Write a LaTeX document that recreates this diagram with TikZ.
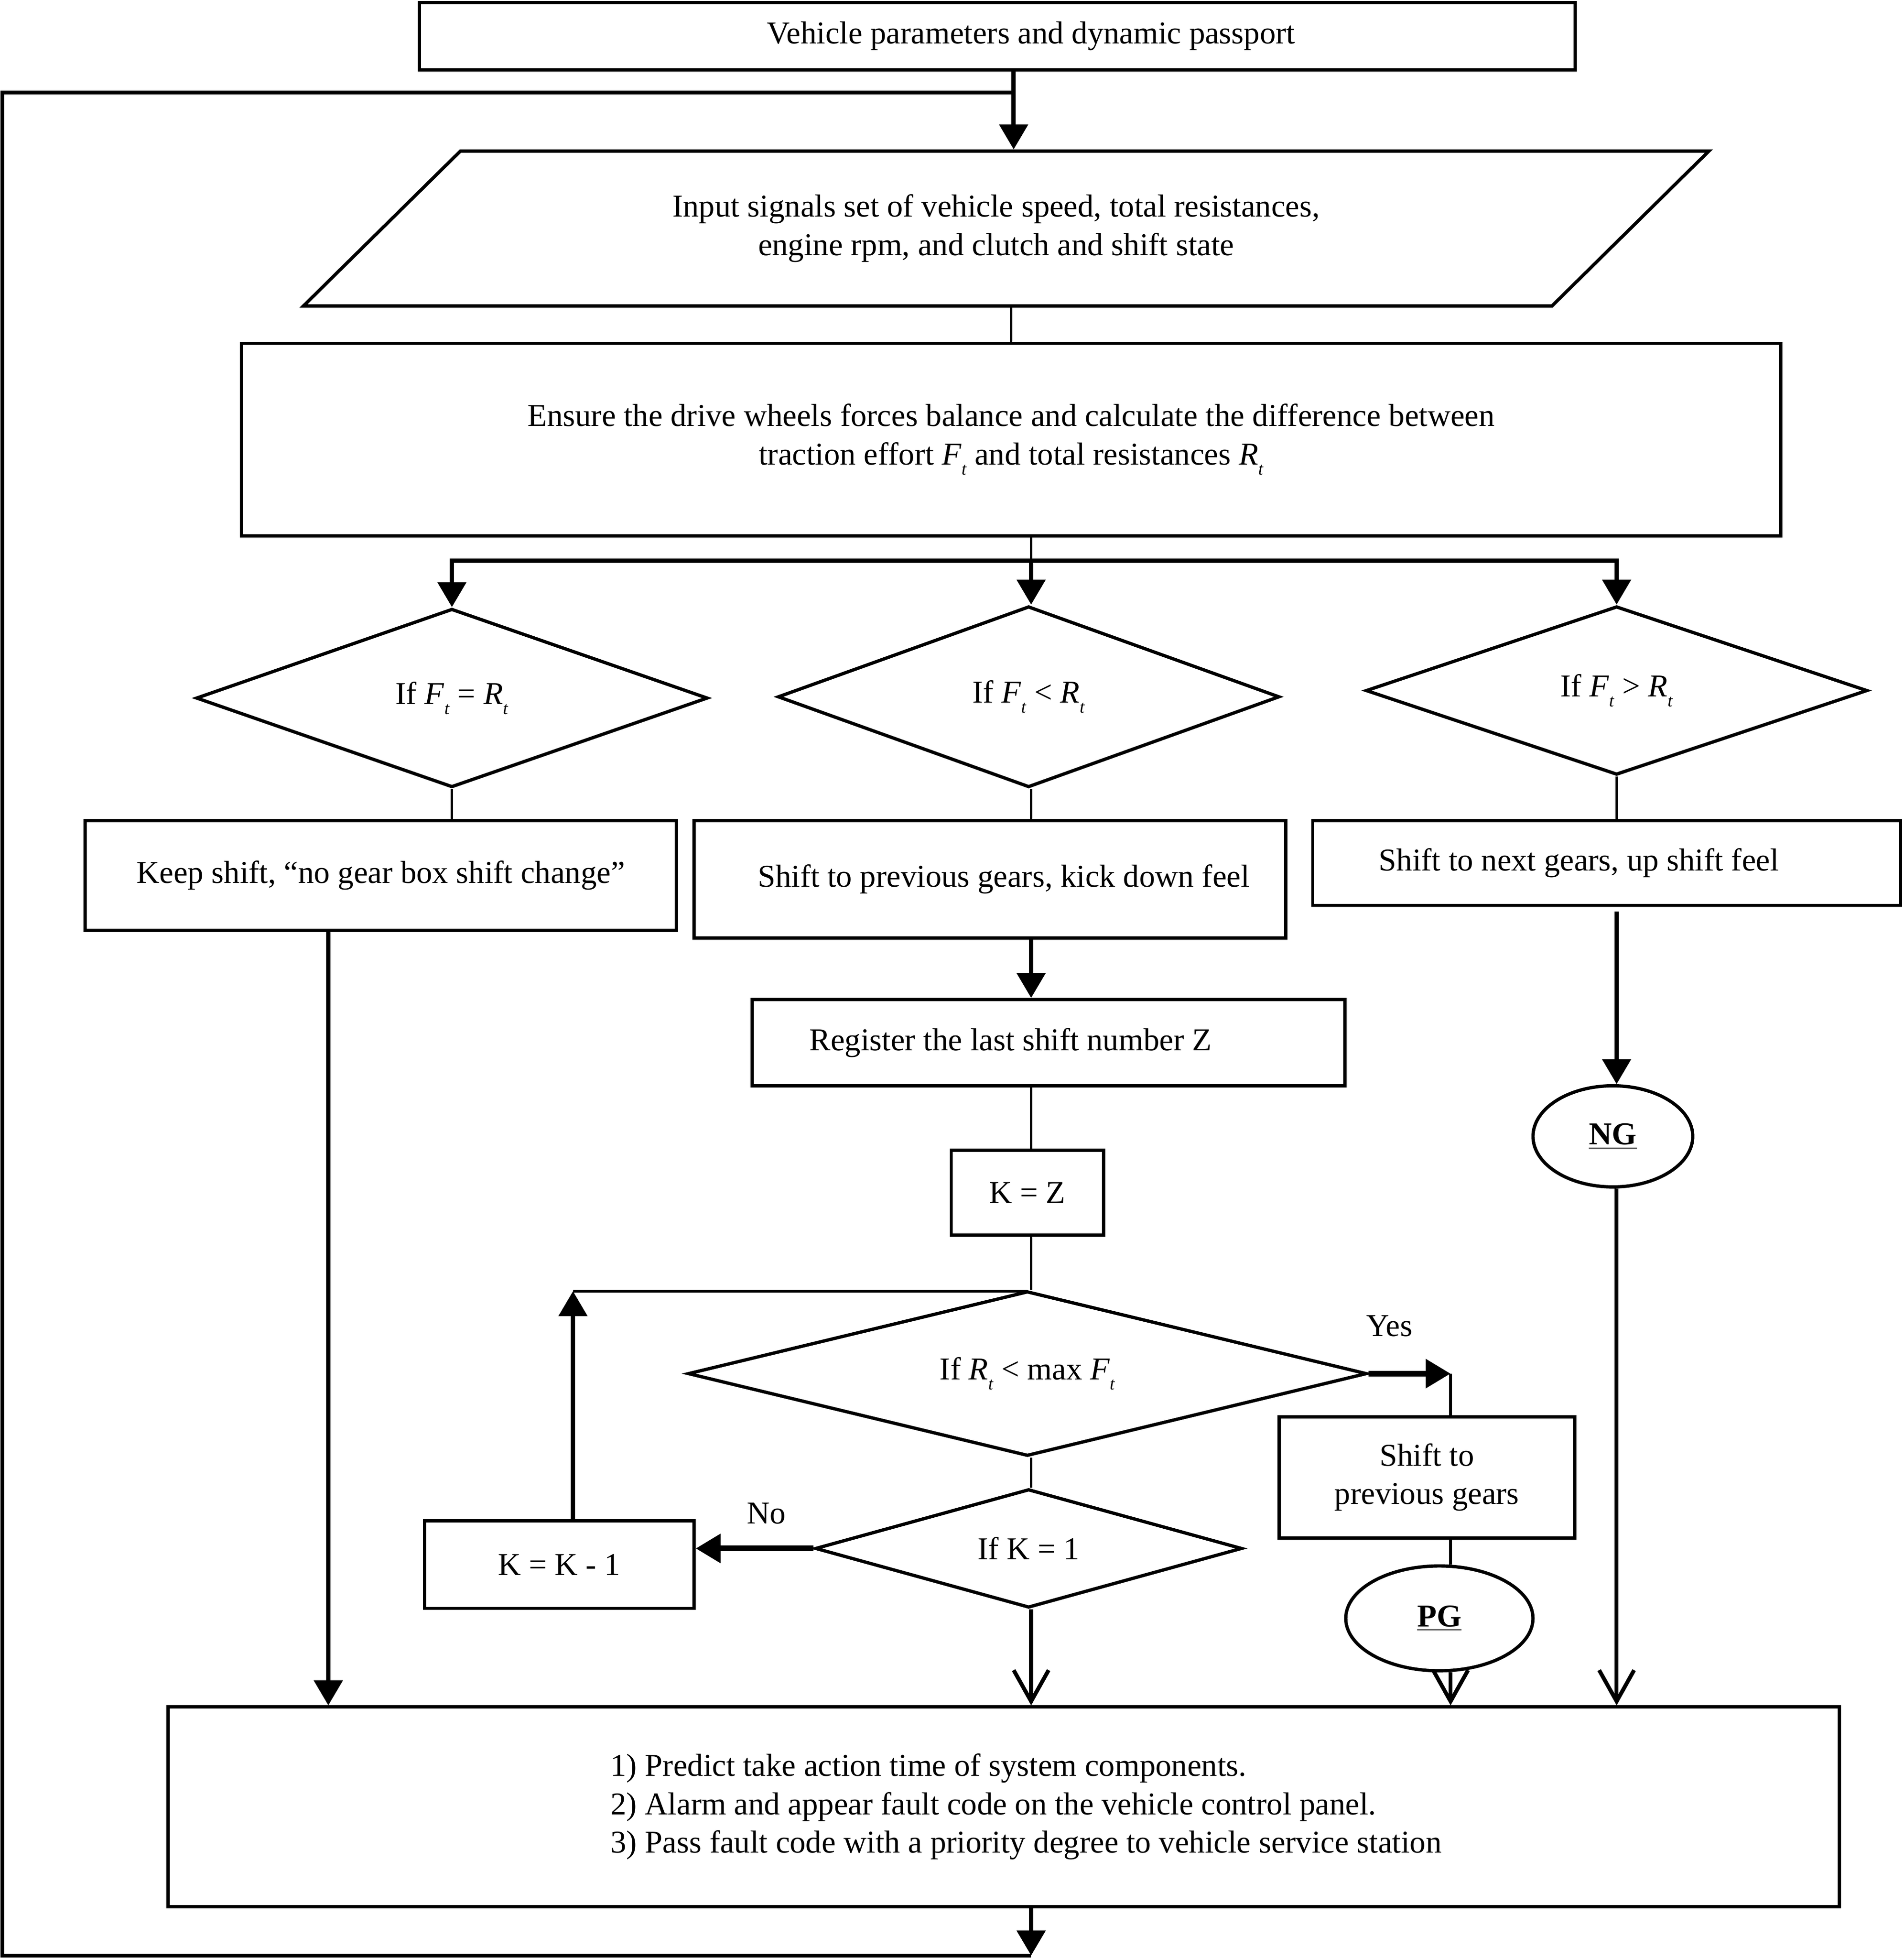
\documentclass[tikz,border=0pt]{standalone}
\usepackage{fontspec}
\setmainfont{Liberation Serif}
\usetikzlibrary{arrows.meta, shapes.geometric}
\newcommand{\Ft}{\textit{F}\raisebox{-0.7ex}{\footnotesize\textit{t}}}
\newcommand{\Rt}{\textit{R}\raisebox{-0.7ex}{\footnotesize\textit{t}}}

\begin{document}
\begin{tikzpicture}[x=0.02cm, y=-0.02cm, font=\fontsize{14.5}{17.5}\selectfont]
    \tikzstyle{block}=[rectangle, draw=black, line width=1.5pt, inner sep=2pt, align=center]
    \tikzstyle{decision}=[diamond, draw=black, line width=1.5pt, inner sep=0pt, align=center]
    \tikzstyle{io}=[trapezium, trapezium stretches=true, trapezium left angle=43, trapezium right angle=137, draw=black, line width=1.5pt, align=center]
    \tikzstyle{terminal}=[ellipse, draw=black, line width=1.5pt, inner sep=0pt]
    \tikzstyle{conn}=[draw=black, line width=1.2pt]
    \tikzstyle{arrow}=[conn, line width=2pt, -{Triangle[length=0.4cm, width=0.45cm]}]
    \tikzstyle{openarrow}=[conn, line width=1.8pt, -{Straight Barb[length=0.5cm, width=0.56cm, line width=1.8pt]}]

    \useasboundingbox[fill=white] (0,0) rectangle (1525,1568);

    % main column
    \node[block, minimum width=18.52cm, minimum height=1.08cm] (top) at (799,29) {\hspace*{1.08cm}Vehicle parameters and dynamic passport};
    \node[io, minimum width=22.62cm, minimum height=2.48cm] (inp) at (806,183) {\begin{tabular}{@{}c@{}}Input signals set of vehicle speed, total resistances,\\ engine rpm, and clutch and shift state\end{tabular}\hspace*{0.32cm}};
    \node[block, minimum width=24.66cm, minimum height=3.08cm] (bal) at (810,352) {Ensure the drive wheels forces balance and calculate the difference between\\ traction effort \Ft{} and total resistances \Rt};

    % the three checks
    \node[decision, aspect=2.87, minimum width=8.2cm, minimum height=2.86cm] (D1) at (362,559) {If \Ft{} = \Rt};
    \node[decision, aspect=2.77, minimum width=8.04cm, minimum height=2.9cm] (D2) at (824,558) {If \Ft{} < \Rt};
    \node[decision, aspect=2.98, minimum width=8.04cm, minimum height=2.7cm] (D3) at (1295,553) {If \Ft{} > \Rt};

    \node[block, minimum width=9.48cm, minimum height=1.76cm] (B1) at (305,701) {Keep shift, “no gear box shift change”};
    \node[block, minimum width=9.48cm, minimum height=1.88cm] (B2) at (793,704) {\hspace*{0.44cm}Shift to previous gears, kick down feel};
    \node[block, minimum width=9.42cm, minimum height=1.36cm, text width=7.3cm, inner xsep=1.06cm, align=flush left] (B3) at (1287,691) {Shift to next gears, up shift feel};

    % kick down branch
    \node[block, minimum width=9.5cm, minimum height=1.38cm, text width=7.66cm, inner xsep=0.92cm, align=flush left] (Reg) at (840,835) {Register the last shift number Z};
    \node[block, minimum width=2.44cm, minimum height=1.36cm] (KZ) at (823,955) {K = Z};
    \node[decision, aspect=4.12, minimum width=10.88cm, minimum height=2.64cm] (D4) at (823,1100) {If \Rt{} < max \Ft};
    \node[decision, aspect=3.6, minimum width=6.84cm, minimum height=1.9cm] (D5) at (824,1240) {If K = 1};
    \node[block, minimum width=4.32cm, minimum height=1.4cm] (Km1) at (448,1253) {K = K - 1};
    \node[block, minimum width=4.74cm, minimum height=1.94cm] (prv) at (1143,1183) {Shift to\\ previous gears};
    \node[terminal, minimum width=3cm, minimum height=1.68cm] (PG) at (1153,1296) {\textbf{\underline{PG}}};
    \node[terminal, minimum width=2.56cm, minimum height=1.62cm] (NG) at (1292,910) {\textbf{\underline{NG}}};

    \node[block, minimum width=26.78cm, minimum height=3.2cm] (act) at (804,1447) {\hspace*{0.72cm}\begin{tabular}{@{}l@{}}1) Predict take action time of system components.\\ 2) Alarm and appear fault code on the vehicle control panel.\\ 3) Pass fault code with a priority degree to vehicle service station\end{tabular}};

    \node (yes) at (1113,1062) {Yes};
    \node (no) at (614,1212) {No};

    % junction points
    \coordinate (lt) at (812,74);
    \coordinate (lb) at (826,1566);
    \coordinate (ll) at (2,1566);
    \coordinate (br) at (826,449);
    \coordinate (k1) at (263,745);
    \coordinate (ng) at (1295,730);
    \coordinate (lp) at (459,1034);
    \coordinate (yy) at (1162,1100);

    % connectors
    \draw[arrow] (top.south -| lt) -- (inp.north -| lt);
    \draw[conn] (inp.south -| bal.north) -- (bal.north);
    \draw[conn] (bal.south -| br) -- (br);
    \draw[arrow] (br) -- (br |- D2.north);
    \draw[arrow] (br) -| (D1.north);
    \draw[arrow] (br) -| (D3.north);

    \draw[conn] (D1.south) -- (D1.south |- B1.north);
    \draw[conn] (D2.south -| br) -- (B2.north -| br);
    \draw[conn] (D3.south) -- (D3.south |- B3.north);

    \draw[arrow] (k1) -- (k1 |- act.north);
    \draw[arrow] (B2.south -| br) -- (Reg.north -| br);
    \draw[conn] (Reg.south -| br) -- (KZ.north -| br);
    \draw[conn] (KZ.south -| br) -- (D4.north -| br);
    \draw[arrow] (lp |- Km1.north) -- (lp);
    \draw[conn] (lp) -- (lp -| D4.north);
    \draw[arrow, line width=2.6pt] (D4.east) -- (yy);
    \draw[conn] (yy) -- (yy |- prv.north);
    \draw[conn] (prv.south -| yy) -- (PG.north -| yy);
    \draw[openarrow] (PG.south -| yy) -- (act.north -| yy);
    \draw[conn] (D4.south -| br) -- (D5.north -| br);
    \draw[arrow, line width=2.6pt] (D5.west) -- (D5.west -| Km1.east);
    \draw[openarrow] (D5.south -| br) -- (act.north -| br);

    \draw[arrow] (ng) -- (ng |- NG.north);
    \draw[openarrow] (ng |- NG.south) -- (ng |- act.north);

    % loop back to the input
    \draw[arrow] (act.south -| lb) -- (lb);
    \draw[conn, line width=1.8pt] (lb) -- (ll) |- (lt);
\end{tikzpicture}
\end{document}
